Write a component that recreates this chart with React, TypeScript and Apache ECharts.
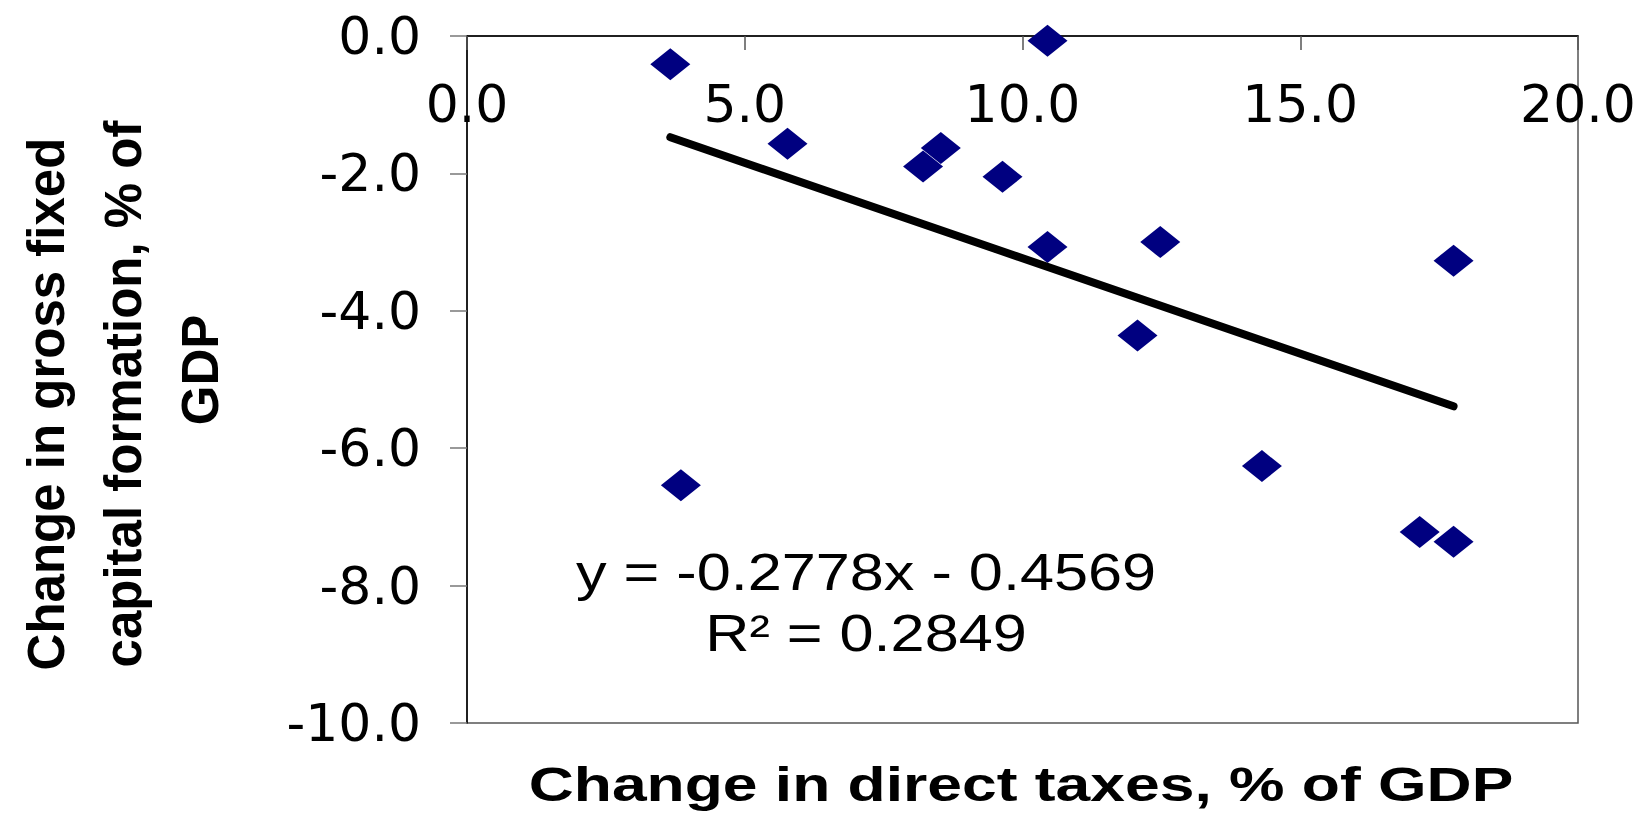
import React, { useEffect, useRef } from "react";
import * as echarts from "echarts";

// Change in direct taxes, % of GDP
const xValues = [3.66, 5.77, 10.45, 8.53, 8.21, 9.64, 10.45, 12.48, 17.76, 12.07, 3.85, 14.31, 17.15, 17.76];
// Change in gross fixed capital formation, % of GDP
const yValues = [-0.41, -1.57, -0.07, -1.63, -1.9, -2.05, -3.07, -3.0, -3.27, -4.36, -6.54, -6.26, -7.22, -7.36];

// Linear trend shown on the chart
const trendSlope = -0.2778;
const trendIntercept = -0.4569;
const trendLabel = "y = -0.2778x - 0.4569";
const r2Label = "R\u00B2 = 0.2849";

const xTitle = "Change in direct taxes, % of GDP";
const yTitleLines = ["Change in gross fixed", "capital formation, % of", "GDP"];

export default function App() {
  const ref = useRef<HTMLDivElement>(null);

  useEffect(() => {
    if (!ref.current) return;
    const chart = echarts.init(ref.current, undefined, { renderer: "svg" });

    const points = xValues.map((x, i) => [x, yValues[i]]);
    const xMin = Math.min(...xValues);
    const xMax = Math.max(...xValues);
    const trend = [
      [xMin, trendSlope * xMin + trendIntercept],
      [xMax, trendSlope * xMax + trendIntercept],
    ];

    const yTitlePos = [
      [46, 404],
      [123, 394],
      [200, 370],
    ];

    chart.setOption({
      animation: false,
      backgroundColor: "#fff",
      grid: {
        left: 467,
        right: 68,
        top: 36,
        bottom: 91,
        show: true,
        borderColor: "#555",
        borderWidth: 1.5,
        backgroundColor: "transparent",
        outerBoundsMode: "none",
      },
      xAxis: {
        type: "value",
        min: 0,
        max: 20,
        interval: 5,
        position: "top",
        axisLine: { onZero: false, lineStyle: { color: "#000", width: 1.5 } },
        axisTick: { show: true, inside: true, length: 14, lineStyle: { color: "#555", width: 1.5 } },
        axisLabel: {
          inside: true,
          formatter: (v: number) => v.toFixed(1),
          fontSize: 52,
          fontFamily: "DejaVu Sans",
          color: "#000",
          margin: 42,
        },
        splitLine: { show: false },
      },
      yAxis: {
        type: "value",
        min: -10,
        max: 0,
        interval: 2,
        axisLine: { show: true, onZero: false, lineStyle: { color: "#000", width: 1.5 } },
        axisTick: { show: true, length: 17, lineStyle: { color: "#777", width: 1.5 } },
        axisLabel: {
          formatter: (v: number) => v.toFixed(1),
          fontSize: 52,
          fontFamily: "DejaVu Sans",
          color: "#000",
          margin: 46,
          padding: [0, 0, 12, 0],
        },
        splitLine: { show: false },
      },
      series: [
        {
          type: "scatter",
          data: points,
          symbol: "diamond",
          symbolSize: [40, 32],
          itemStyle: { color: "#000080", opacity: 1 },
        },
        {
          type: "line",
          data: trend,
          showSymbol: false,
          symbol: "none",
          lineStyle: { color: "#000", width: 8, cap: "round" },
          z: 3,
        },
      ],
      graphic: [
        ...yTitleLines.map((t, i) => ({
          type: "text",
          x: yTitlePos[i][0],
          y: yTitlePos[i][1],
          rotation: Math.PI / 2,
          style: {
            text: t,
            fontSize: 51,
            fontWeight: "bold",
            fontFamily: "Liberation Sans",
            fill: "#000",
            align: "center",
            verticalAlign: "middle",
          },
        })),
        {
          type: "text",
          x: 1021,
          y: 785,
          scaleX: 1.3,
          style: {
            text: xTitle,
            fontSize: 48,
            fontWeight: "bold",
            fontFamily: "Liberation Sans",
            fill: "#000",
            align: "center",
            verticalAlign: "middle",
          },
        },
        {
          type: "text",
          x: 866,
          y: 572,
          scaleX: 1.2,
          style: {
            text: trendLabel,
            fontSize: 51,
            fontFamily: "Liberation Sans",
            fill: "#000",
            align: "center",
            verticalAlign: "middle",
          },
        },
        {
          type: "text",
          x: 866,
          y: 633,
          scaleX: 1.2,
          style: {
            text: r2Label,
            fontSize: 51,
            fontFamily: "Liberation Sans",
            fill: "#000",
            align: "center",
            verticalAlign: "middle",
          },
        },
      ],
    });

    return () => chart.dispose();
  }, []);

  return (
    <div
      ref={ref}
      style={{ position: "absolute", left: 0, top: 0, width: 1646, height: 814 }}
    />
  );
}
